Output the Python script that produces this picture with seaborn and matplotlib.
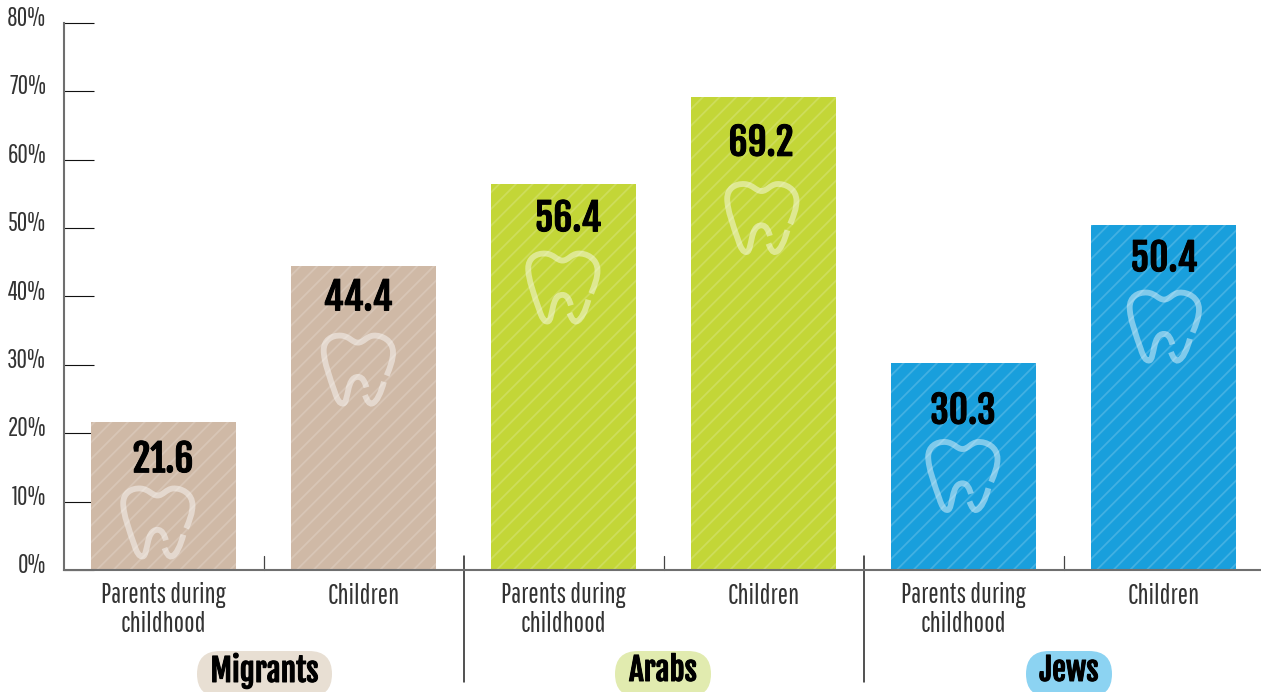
import matplotlib
matplotlib.use("Agg")
import matplotlib.pyplot as plt
import matplotlib.patheffects as pe
import pandas as pd
import seaborn as sns
from matplotlib.patches import FancyBboxPatch, PathPatch
from matplotlib.path import Path
from matplotlib.transforms import Affine2D, ScaledTranslation

# Share of people with dental decay, by community and generation
communities = ["Migrants", "Migrants", "Arabs", "Arabs", "Jews", "Jews"]
generations = ["Parents during\nchildhood", "Children"] * 3
values = [21.6, 44.4, 56.4, 69.2, 30.3, 50.4]
y_ticks = [0, 10, 20, 30, 40, 50, 60, 70, 80]

bar_colors = {"Migrants": "#CFB9A6", "Arabs": "#C3D637", "Jews": "#199FDC"}
pill_colors = {"Migrants": "#E8DFD3", "Arabs": "#E1EBAF", "Jews": "#8CD3F2"}

W, H = 1261, 692
LIGHT = ["Pathway Gothic One", "Liberation Sans", "DejaVu Sans"]
HEAD = ["Fjalla One", "Liberation Sans", "DejaVu Sans"]

sns.set_theme(style="white")
plt.rcParams["font.family"] = LIGHT
plt.rcParams["hatch.linewidth"] = 1.3

fig = plt.figure(figsize=(W / 100, H / 100), dpi=100)
ax = fig.add_axes([63.5 / W, (H - 570) / H, (W - 63.5) / W, 547 / H])

frame = pd.DataFrame({
    "bar": [f"{c} {g}" for c, g in zip(communities, generations)],
    "community": communities,
    "value": values,
})
sns.barplot(data=frame, x="bar", y="value", hue="community", palette=bar_colors,
            dodge=False, width=0.725, legend=False, saturation=1, ax=ax, zorder=2)

for patch in ax.patches:
    patch.set_edgecolor((1, 1, 1, 0.18))
    patch.set_hatch("//")
    patch.set_linewidth(0)

ax.set_xlim(-0.5, 5.4875)
ax.set_ylim(0, 80)
ax.set_xlabel("")
ax.set_ylabel("")
ax.set_axisbelow(True)

# Axis frame
sns.despine(ax=ax, top=True, right=True)
for side in ("left", "bottom"):
    ax.spines[side].set_color("#6f6f6f")
    ax.spines[side].set_linewidth(1.5)
    ax.spines[side].set_zorder(3)

# Value axis: long inward ticks, labels lifted slightly above each tick
ax.set_yticks(y_ticks)
ax.set_yticklabels([f"{t}%" for t in y_ticks], fontsize=18.5, color="#333333")
ax.tick_params(axis="y", direction="in", length=21.6, width=0.8, color="#111111",
               pad=12.5, left=True)
lift = ScaledTranslation(0, 5 / 72, fig.dpi_scale_trans)
for lab in ax.get_yticklabels():
    lab.set_transform(lab.get_transform() + lift)

ax.set_xticks(range(6))
ax.set_xticklabels(generations, fontsize=20, color="#333333", linespacing=1.1)
ax.tick_params(axis="x", length=0, pad=9)

# Separators between generations and between communities
sep_tf = ax.get_xaxis_transform()
for x in (0.5, 2.5, 4.5):
    ax.plot([x, x], [0, 14 / 547], transform=sep_tf, color="#444444", lw=0.9, clip_on=False)
for x in (1.5, 3.5):
    ax.plot([x, x], [-112 / 547, 14 / 547], transform=sep_tf, color="#222222", lw=1.1, clip_on=False)

# Tooth glyph in a unit box, y pointing down
tooth_root = Path(
    [(0.91, 0.58), (0.96, 0.46), (1.00, 0.36), (1.00, 0.25),
     (1.00, 0.08), (0.84, 0.00), (0.72, 0.01),
     (0.62, 0.02), (0.58, 0.11), (0.50, 0.11),
     (0.42, 0.11), (0.38, 0.02), (0.26, 0.01),
     (0.12, 0.00), (0.01, 0.08), (0.01, 0.22),
     (0.01, 0.38), (0.10, 0.62), (0.17, 0.82),
     (0.20, 0.92), (0.24, 0.99), (0.29, 0.98),
     (0.37, 0.96), (0.33, 0.60), (0.50, 0.60),
     (0.57, 0.60), (0.60, 0.68), (0.62, 0.75)],
    [Path.MOVETO] + [Path.CURVE4] * 27,
)
tooth_tail = Path(
    [(0.60, 0.86), (0.63, 0.94), (0.66, 0.99), (0.70, 0.98),
     (0.77, 0.96), (0.83, 0.82), (0.87, 0.67)],
    [Path.MOVETO] + [Path.CURVE4] * 6,
)

# Pixel offsets of the glyph and the value label from each bar's top centre
tooth_dx = [-41, -40.5, -36, -37, -36, -34.5]
tooth_drop = [65.5, 68.5, 68.5, 86.5, 78.5, 66.5]
label_dx = [-0.5, -5.5, 4.5, -2.5, -0.5, 0.5]
label_drop = [37, 31, 34, 46, 48, 33]

heavier = [pe.withStroke(linewidth=0.7, foreground="black")]

for i, v in enumerate(values):
    anchor = ScaledTranslation(i, v, ax.transData)
    glyph_tf = Affine2D().scale(70, -70).translate(tooth_dx[i], -tooth_drop[i]) + anchor
    for shape in (tooth_root, tooth_tail):
        ax.add_patch(PathPatch(shape, transform=glyph_tf, fill=False, clip_on=False,
                               edgecolor=(1, 1, 1, 0.45), linewidth=4.2,
                               capstyle="butt", zorder=4))
    ax.annotate(f"{v}", xy=(i, v), xytext=(label_dx[i] * 0.72, -label_drop[i] * 0.72),
                textcoords="offset points", ha="center", va="center", fontsize=27,
                family=HEAD, color="black", zorder=5, path_effects=heavier)

# Community names on rounded pills, running off the bottom edge
pill_spans = {"Migrants": (197, 332), "Arabs": (615, 711), "Jews": (1026, 1112)}
for name, (x0, x1) in pill_spans.items():
    y0, y1 = H - 697, H - 651
    fig.add_artist(FancyBboxPatch(
        (x0 + 23, y0 + 23), x1 - x0 - 46, y1 - y0 - 46,
        boxstyle="round,pad=23,rounding_size=23", transform=None,
        facecolor=pill_colors[name], edgecolor="none"))
    fig.text((x0 + x1) / 2 / W, (H - 671) / H, name, ha="center", va="center",
             fontsize=22.5, family=HEAD, color="black", path_effects=heavier)

fig.savefig("out.png", dpi=100, facecolor="white")
